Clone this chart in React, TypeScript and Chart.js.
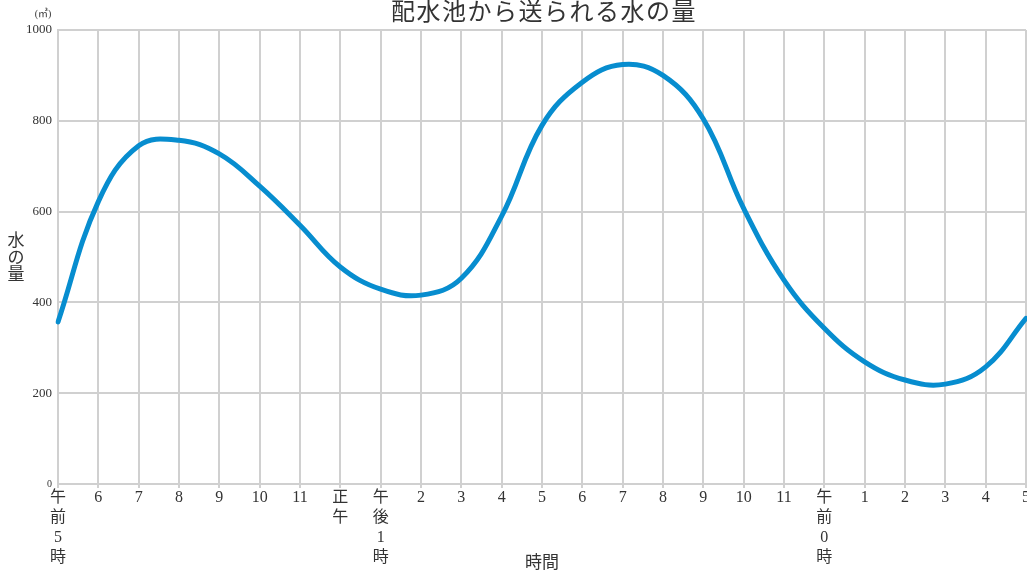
import React, { useEffect, useRef } from 'react';
import { Chart, registerables } from 'chart.js';

Chart.register(...registerables);

// 時刻ラベル（縦書きのものは配列で1文字ずつ）
const timeLabels: (string | string[])[] = [
  ['午', '前', '5', '時'], '6', '7', '8', '9', '10', '11', ['正', '午'],
  ['午', '後', '1', '時'], '2', '3', '4', '5', '6', '7', '8', '9', '10', '11',
  ['午', '前', '0', '時'], '1', '2', '3', '4', '5',
];

// 配水池から送られる水の量 (㎥)
const waterAmount = [
  357, 622, 745, 757, 727, 656, 570, 478, 429, 416, 453, 590, 790,
  885, 924, 900, 804, 607, 449, 343, 269, 229, 220, 258, 365,
];

const yTicks = [0, 200, 400, 600, 800, 1000];

const chartTitle = '配水池から送られる水の量';
const yTitle = ['水', 'の', '量'];
const unitLabel = '(㎥)';
const xTitle = '時間';

const serif = '"Liberation Serif", "Noto Sans CJK JP", serif';
const sans = '"Noto Sans CJK JP", "Noto Sans", sans-serif';

// Extra labels drawn straight on the canvas
const extraText = {
  id: 'extraText',
  afterDraw(chart: Chart) {
    const ctx = chart.ctx;
    ctx.save();
    ctx.fillStyle = '#333';
    ctx.textBaseline = 'middle';

    ctx.font = `24px ${sans}`;
    ctx.textAlign = 'center';
    (ctx as any).letterSpacing = '1.5px';
    ctx.fillText(chartTitle, 544, 11);
    (ctx as any).letterSpacing = '0px';

    ctx.font = `10px ${serif}`;
    ctx.fillText(unitLabel, 43, 14);

    ctx.font = `17px ${sans}`;
    yTitle.forEach((ch, i) => ctx.fillText(ch, 16, 240 + i * 17));
    ctx.restore();
  },
};

const App: React.FC = () => {
  const chartRef = useRef<HTMLCanvasElement | null>(null);
  const chartInstance = useRef<Chart | null>(null);

  useEffect(() => {
    if (!chartRef.current) return;
    if (chartInstance.current) chartInstance.current.destroy();

    chartInstance.current = new Chart(chartRef.current, {
      type: 'line',
      data: {
        labels: timeLabels,
        datasets: [{
          data: waterAmount,
          borderColor: '#078dcf',
          borderWidth: 5,
          borderCapStyle: 'round',
          pointRadius: 0,
          tension: 0.4,
          fill: false,
        }],
      },
      options: {
        responsive: true,
        maintainAspectRatio: false,
        animation: false,
        layout: { padding: { top: 30, right: 1, left: 0, bottom: 0 } },
        plugins: {
          legend: { display: false },
          tooltip: { enabled: false },
        },
        scales: {
          x: {
            grid: { color: '#d0d0d0', lineWidth: 2, tickLength: 4 },
            border: { color: '#d0d0d0', width: 2 },
            ticks: {
              color: '#333',
              autoSkip: false,
              maxRotation: 0,
              padding: 0,
              font: { family: serif, size: 16, lineHeight: 1.25 },
            },
            title: {
              display: true,
              text: xTitle,
              color: '#333',
              padding: 0,
              font: { family: sans, size: 17 },
            },
            afterFit(scale: any) {
              scale.height = 88;
              scale.paddingLeft = 0;
              scale.paddingRight = 0;
            },
          },
          y: {
            min: 0,
            max: 1000,
            afterBuildTicks(scale: any) {
              scale.ticks = yTicks.map((v) => ({ value: v }));
            },
            grid: { color: '#d0d0d0', lineWidth: 2, drawTicks: false },
            border: { color: '#d0d0d0', width: 2 },
            ticks: {
              color: '#333',
              padding: 6,
              callback: (v: any) => String(v),
              font: (c: any) => ({ family: serif, size: c.tick && c.tick.value === 0 ? 10 : 13 }),
            },
            afterFit(scale: any) {
              scale.width = 58;
              scale.paddingTop = 0;
              scale.paddingBottom = 0;
            },
          },
        },
      },
      plugins: [extraText],
    });

    return () => {
      if (chartInstance.current) {
        chartInstance.current.destroy();
        chartInstance.current = null;
      }
    };
  }, []);

  return (
    <div style={{ position: 'absolute', left: 0, top: 0, width: 1027, height: 572, background: '#fff' }}>
      <canvas ref={chartRef}></canvas>
    </div>
  );
};

export default App;
